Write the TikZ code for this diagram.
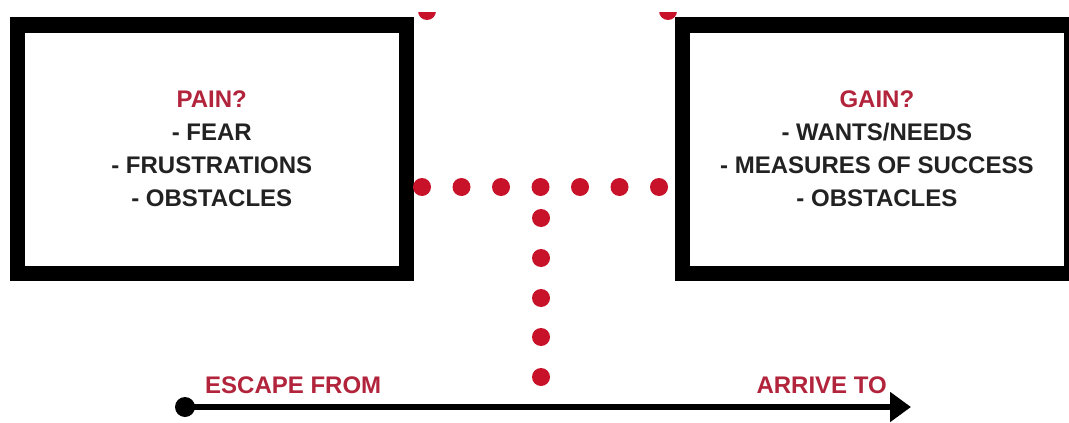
\documentclass[tikz,border=0pt]{standalone}
\usepackage{fontspec}
\setmainfont{Liberation Sans}
\usetikzlibrary{arrows.meta}
\definecolor{dotred}{RGB}{200,18,42}
\definecolor{txtred}{RGB}{178,36,60}
\definecolor{txtdark}{RGB}{34,34,34}
\begin{document}
\begin{tikzpicture}[x=1pt,y=-1pt,
  box/.style={draw=black, line width=15.5pt, minimum width=389pt, minimum height=248.5pt,
    inner sep=0pt, align=center, font=\bfseries\fontsize{24}{33}\selectfont, text=txtdark},
  dot/.style={circle, fill=dotred, minimum size=18pt, inner sep=0pt},
  lbl/.style={font=\bfseries\fontsize{24}{28}\selectfont, text=txtred, inner sep=0pt}]
\useasboundingbox (0,0) rectangle (1069,423);
\fill[white] (0,0) rectangle (1069,423);
% boxes
\node[box] (pain) at (211.75,149) {\textcolor{txtred}{PAIN?}\\- FEAR\\- FRUSTRATIONS\\- OBSTACLES};
\node[box] (gain) at (876.9,149) {\textcolor{txtred}{GAIN?}\\- WANTS/NEEDS\\- MEASURES OF SUCCESS\\- OBSTACLES};
% horizontal dots
\foreach \x [count=\i] in {422,461.5,501,540.5,580,619.5,659}
  \node[dot] (h\i) at (\x,187) {};
% vertical dots
\foreach \y [count=\i] in {218,258,298,337,377}
  \node[dot] (v\i) at (541,\y) {};
% top cut dots
\begin{scope}
  \clip (400,12) rectangle (700,40);
  \node[dot] (t1) at (427,11) {};
  \node[dot] (t2) at (668,11) {};
\end{scope}
% timeline arrow
\node[circle, fill=black, minimum size=20pt, inner sep=0pt] (start) at (185,407) {};
\coordinate (end) at (911,407);
\draw[line width=5.5pt, -{Triangle[length=21pt,width=29pt]}] (start.center) -- (end);
\node[lbl, anchor=base west] (escape) at (205,393) {ESCAPE FROM};
\node[lbl, anchor=base east] (arrive) at (887,393) {ARRIVE TO};
\end{tikzpicture}
\end{document}
